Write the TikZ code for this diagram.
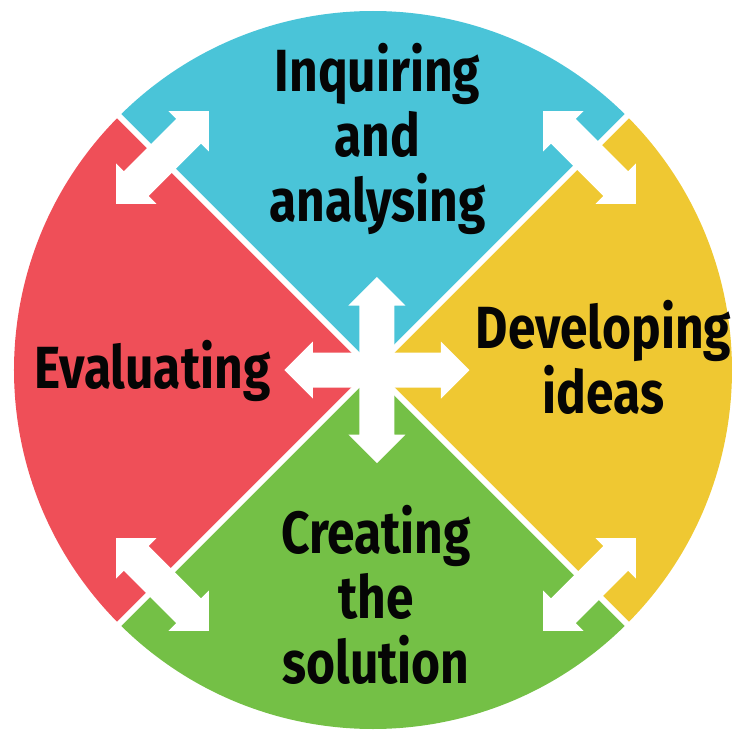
\documentclass[tikz,border=0pt]{standalone}
\usepackage{fontspec}
\newfontfamily\cyclefont{Fira Sans}[FakeStretch=0.835]

\definecolor{inqblue}{RGB}{74,196,216}
\definecolor{devyellow}{RGB}{239,200,50}
\definecolor{crgreen}{RGB}{116,192,70}
\definecolor{evred}{RGB}{239,79,88}

\tikzset{
  phase/.style={font=\cyclefont\bfseries\fontsize{59.5}{65}\selectfont,
                align=center, anchor=base, inner sep=0pt, text=black!98},
  sepline/.style={draw=white, line width=6pt},
}

% white double arrow: #1 placement, #2 half length
\newcommand\dblarrow[2]{%
  \fill[white,#1] (-#2,0) -- ({-#2+28.5},28.5) -- ({-#2+28.5},17.5)
    -- ({#2-28.5},17.5) -- ({#2-28.5},28.5) -- (#2,0) -- ({#2-28.5},-28.5)
    -- ({#2-28.5},-17.5) -- ({-#2+28.5},-17.5) -- ({-#2+28.5},-28.5) -- cycle;}

\begin{document}
\begin{tikzpicture}[x=1pt,y=1pt]
  \useasboundingbox (-373,-364) rectangle (361,370);

  % the four quarters
  \fill[inqblue]   (0,0) -- (45:359)  arc[start angle=45,  end angle=135, radius=359] -- cycle;
  \fill[evred]     (0,0) -- (135:359) arc[start angle=135, end angle=225, radius=359] -- cycle;
  \fill[crgreen]   (0,0) -- (225:359) arc[start angle=225, end angle=315, radius=359] -- cycle;
  \fill[devyellow] (0,0) -- (-45:359) arc[start angle=-45, end angle=45,  radius=359] -- cycle;
  \draw[sepline] (135:365) -- (-45:365);
  \draw[sepline] (45:365) -- (225:365);

  % arrows
  \foreach \a in {45,135,225,315}{
    \dblarrow{shift={(3,-1)},shift={(\a:302)},rotate=\a+90}{65.5}
  }
  \dblarrow{shift={(4,0)}}{92.5}
  \dblarrow{shift={(4,0)},rotate=90}{93}

  % labels (anchored at the last line)
  \node[phase] (inq) at (4.5,148) {Inquiring\\and\\analysing};
  \node[phase] (dev) at (230.5,-43) {Developing\\ideas};
  \node[phase] (cre) at (3,-313) {Creating\\the\\solution};
  \node[phase] (eva) at (-220.5,-18) {Evaluating};
\end{tikzpicture}
\end{document}
